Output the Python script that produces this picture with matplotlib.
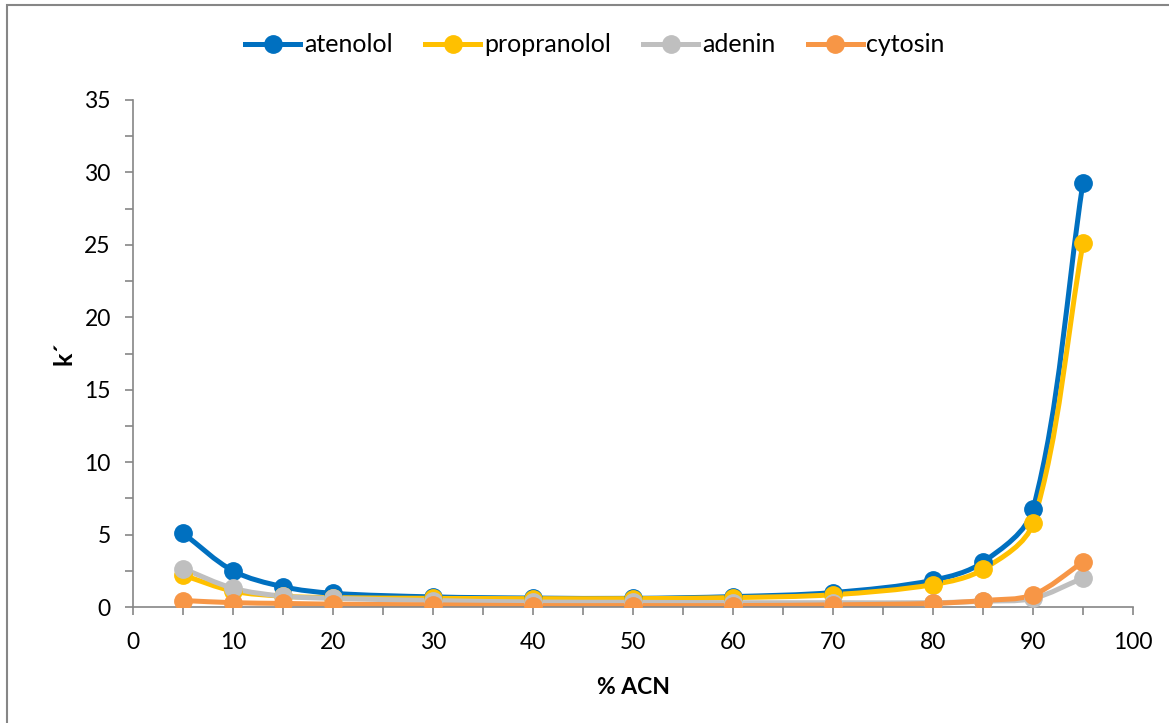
import numpy as np
import matplotlib
matplotlib.use('Agg')
from matplotlib import pyplot as plt
from matplotlib.path import Path
from matplotlib.patches import PathPatch, Rectangle
from matplotlib.lines import Line2D

plt.rcParams['font.family'] = ['Lato', 'DejaVu Sans']

acn = [5, 10, 15, 20, 30, 40, 50, 60, 70, 80, 85, 90, 95]
atenolol = [5.1, 2.5, 1.4, 0.95, 0.7, 0.62, 0.6, 0.72, 1.0, 1.85, 3.1, 6.75, 29.3]
propranolol = [2.2, 1.1, 0.75, 0.65, 0.6, 0.58, 0.58, 0.65, 0.85, 1.55, 2.6, 5.8, 25.1]
adenin = [2.65, 1.3, 0.75, 0.6, 0.45, 0.35, 0.33, 0.3, 0.3, 0.3, 0.4, 0.6, 2.0]
cytosin = [0.45, 0.3, 0.25, 0.2, 0.15, 0.1, 0.1, 0.1, 0.15, 0.25, 0.45, 0.85, 3.1]

names = ['atenolol', 'propranolol', 'adenin', 'cytosin']
colors = ['#0070C0', '#FFC000', '#BFBFBF', '#F79646']
series = [atenolol, propranolol, adenin, cytosin]


def smooth_path(x, y, sx=10.0, sy=14.49):
    # Excel-like smoothed line: cubic Bezier, chord-length scaled tangents
    p = np.column_stack([x, y]).astype(float)
    s = np.array([sx, sy])
    n = len(p)

    def dist(a, b):
        return np.hypot(*((b - a) * s))

    verts = [p[0]]
    codes = [Path.MOVETO]
    for i in range(n - 1):
        p0 = p[i - 1] if i > 0 else p[i]
        p1 = p[i]
        p2 = p[i + 1]
        p3 = p[i + 2] if i + 2 < n else p[i + 1]
        d12 = dist(p1, p2)
        t1 = (p2 - p0) / (dist(p0, p1) + d12)
        t2 = (p3 - p1) / (d12 + dist(p2, p3))
        c1 = p1 + t1 * d12 / 3.0
        c2 = p2 - t2 * d12 / 3.0
        verts += [c1, c2, p2]
        codes += [Path.CURVE4] * 3
    return Path(verts, codes)


fig = plt.figure(figsize=(11.69, 7.23), dpi=100)
ax = fig.add_axes([0.1138, 0.1604, 0.8554, 0.7013])

for name, col, vals in zip(names, colors, series):
    ax.add_patch(PathPatch(smooth_path(acn, vals), facecolor='none',
                           edgecolor=col, lw=3.6, capstyle='round', zorder=2))
    ax.plot(acn, vals, linestyle='none', marker='o', markersize=12.5,
            color=col, zorder=3)

ax.set_xlim(0, 100)
ax.set_ylim(0, 35)
ax.set_xticks(np.arange(0, 101, 10))
ax.set_xticks(np.arange(5, 100, 10), minor=True)
ax.set_yticks(np.arange(0, 36, 5))
ax.set_yticks(np.arange(2.5, 35, 5), minor=True)

for s in ['top', 'right']:
    ax.spines[s].set_visible(False)
for s in ['left', 'bottom']:
    ax.spines[s].set_color('#868686')
    ax.spines[s].set_linewidth(1.2)
ax.tick_params(which='both', direction='out', color='#868686', width=1.2,
               length=6, labelsize=16.5, labelcolor='black')
ax.tick_params(axis='y', pad=10)
ax.tick_params(axis='x', pad=12)

ax.set_xlabel('% ACN', fontsize=16.5, fontweight='bold', labelpad=17)
ax.set_ylabel('k´', fontsize=18, fontweight='bold', labelpad=6)

handles = [Line2D([], [], color=c, lw=3.6, marker='o', markersize=12.5)
           for c in colors]
fig.legend(handles, names, loc='center', bbox_to_anchor=(0.509, 0.938),
           ncol=4, frameon=False, fontsize=18, handlelength=2.2,
           handletextpad=0.15, columnspacing=1.3)

fig.patches.append(Rectangle((7, -10), 1200, 723 + 10 - 5, transform=None,
                             fill=False, edgecolor='#868686', lw=1.5))

fig.savefig('out.png', dpi=100)
